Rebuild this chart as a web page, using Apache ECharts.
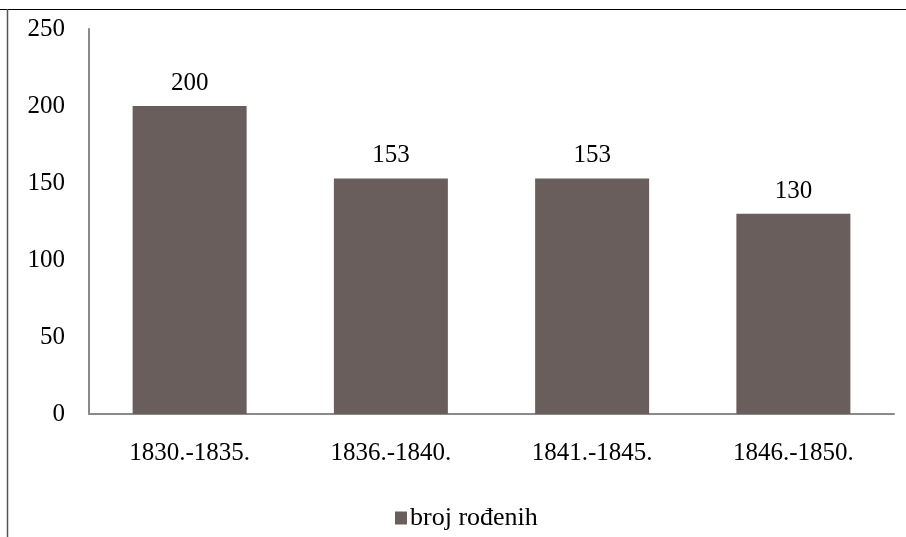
<!DOCTYPE html>
<html>
<head>
<meta charset="utf-8">
<script src="https://cdn.jsdelivr.net/npm/echarts@6/dist/echarts.min.js"></script>
<style>html,body{margin:0;padding:0;background:#fff;}#c{width:906px;height:537px;}</style>
</head>
<body>
<div id="c"></div>
<script>
const categories = ['1830.-1835.', '1836.-1840.', '1841.-1845.', '1846.-1850.'];
const seriesName = 'broj rođenih';
const values = [200, 153, 153, 130];
const yTicks = [0, 50, 100, 150, 200, 250];

const chart = echarts.init(document.getElementById('c'), null, {renderer: 'canvas'});
const font = '"Liberation Serif", "Times New Roman", serif';
chart.setOption({
  animation: false,
  backgroundColor: '#fff',
  textStyle: {fontFamily: font},
  graphic: [
    {type: 'line', shape: {x1: 0, y1: 9.5, x2: 906, y2: 9.5}, style: {stroke: '#000', lineWidth: 1}},
    {type: 'line', shape: {x1: 7.5, y1: 9, x2: 7.5, y2: 537}, style: {stroke: '#555', lineWidth: 1.5}}
  ],
  grid: {left: 89, right: 12, top: 29, bottom: 123, containLabel: false},
  legend: {
    data: [seriesName],
    top: 500,
    left: 390,
    itemWidth: 12, itemHeight: 13, itemGap: 6,
    icon: 'rect',
    textStyle: {fontFamily: font, fontSize: 26, color: '#000', padding: [0,0,0,-2]}
  },
  xAxis: {
    type: 'category',
    data: categories,
    axisLine: {lineStyle: {color: '#8a8a8a', width: 2}},
    axisTick: {show: false},
    axisLabel: {fontFamily: font, fontSize: 25, color: '#000', margin: 27}
  },
  yAxis: {
    type: 'value',
    min: yTicks[0], max: yTicks[yTicks.length - 1], interval: 50,
    axisLine: {show: true, lineStyle: {color: '#8a8a8a', width: 2}},
    axisTick: {show: false},
    splitLine: {show: false},
    axisLabel: {fontFamily: font, fontSize: 25, color: '#000', margin: 24}
  },
  series: [{
    name: seriesName,
    type: 'bar',
    data: values,
    barWidth: 114,
    itemStyle: {color: '#6a5e5d'},
    label: {show: true, position: 'top', distance: 10, fontFamily: font, fontSize: 25, color: '#000'}
  }]
});
</script>
</body>
</html>
